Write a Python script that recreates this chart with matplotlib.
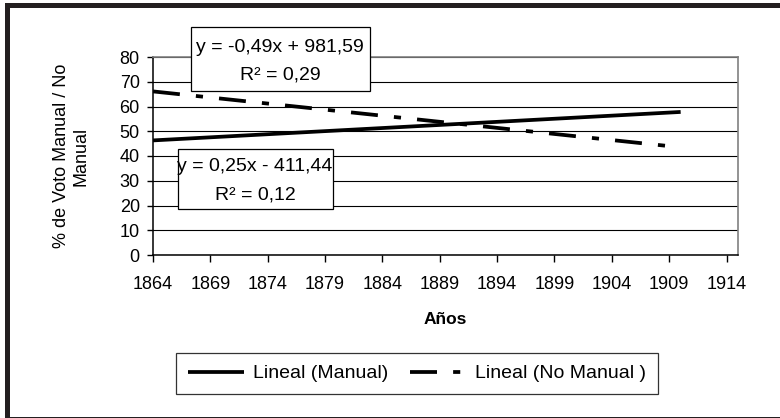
import matplotlib
matplotlib.use("Agg")
import matplotlib.pyplot as plt
from matplotlib.patches import Rectangle

plt.rcParams['font.family'] = ['Liberation Sans', 'DejaVu Sans']

# Data (trend lines)
years = [1864, 1910]
manual = [46.3, 57.8]
no_manual = [66.1, 43.5]
series_labels = ["Lineal (Manual)", "Lineal (No Manual )"]
xticks = list(range(1864, 1915, 5))
yticks = list(range(0, 81, 10))
eq_no_manual = ["y = -0,49x + 981,59", "R² = 0,29"]
eq_manual = ["y = 0,25x - 411,44", "R² = 0,12"]

W, H = 780, 418
fig = plt.figure(figsize=(W / 100, H / 100), dpi=100)
fig.patch.set_facecolor('white')

def fx(x):
    return x / W

def fy(y):
    return 1 - y / H

# outer frame
fig.patches.append(Rectangle((fx(6.5), fy(419)), fx(785) - fx(6.5), fy(5) - fy(419),
                             transform=fig.transFigure, fill=False,
                             edgecolor='#231f20', linewidth=3.6, zorder=0))

L, R, T, B = 153, 738, 57, 255
ax = fig.add_axes([fx(L), fy(B), fx(R) - fx(L), fy(T) - fy(B)])
ax.set_xlim(1864, 1915)
ax.set_ylim(0, 80)
ax.set_xticks(xticks)
ax.set_yticks(yticks)
ax.tick_params(axis='both', labelsize=13, direction='out', width=1.0, color='black')
ax.tick_params(axis='y', length=4.5, pad=5)
ax.tick_params(axis='x', length=5, pad=10)
for s in ['left', 'bottom']:
    ax.spines[s].set_color('black')
    ax.spines[s].set_linewidth(1.1)
for s in ['top', 'right']:
    ax.spines[s].set_color('#808080')
    ax.spines[s].set_linewidth(1.2)
ax.yaxis.grid(True, color='black', linewidth=0.8, zorder=0)
ax.set_axisbelow(True)

l1, = ax.plot(years, manual, color='black', linewidth=2.7, solid_capstyle='butt',
              label=series_labels[0], zorder=3)
l2, = ax.plot(years, no_manual, color='black', linewidth=2.7, dash_capstyle='butt',
              dashes=(7.2, 4.3, 1.9, 4.3), label=series_labels[1], zorder=3)

ax.set_xlabel("Años", fontsize=12.5, fontweight='bold', labelpad=14)
fig.text(fx(71), fy(156), "% de Voto Manual / No\nManual", rotation=90,
         ha='center', va='center', multialignment='center', fontsize=13)

def eq_box(x0, y0, x1, y1, lines, cx, base1, base2):
    fig.patches.append(Rectangle((fx(x0), fy(y1)), fx(x1) - fx(x0), fy(y0) - fy(y1),
                                 transform=fig.transFigure, facecolor='white',
                                 edgecolor='black', linewidth=0.9, zorder=5))
    fig.text(fx(cx), fy(base1), lines[0], ha='center', va='baseline', fontsize=14, zorder=6)
    fig.text(fx(cx), fy(base2), lines[1], ha='center', va='baseline', fontsize=14, zorder=6)

eq_box(191, 27, 370, 91, eq_no_manual, 280, 52, 80)
eq_box(178, 149, 333, 209, eq_manual, 255, 171, 199)

leg = fig.legend(handles=[l1, l2], loc='center', bbox_to_anchor=(fx(417), fy(373.5)),
                 ncol=2, fontsize=14, frameon=True, fancybox=False, borderpad=0.6,
                 handlelength=2.9, handletextpad=0.45, columnspacing=1.1)
leg.get_frame().set_edgecolor('black')
leg.get_frame().set_linewidth(0.9)

fig.savefig("out.png", dpi=100)
